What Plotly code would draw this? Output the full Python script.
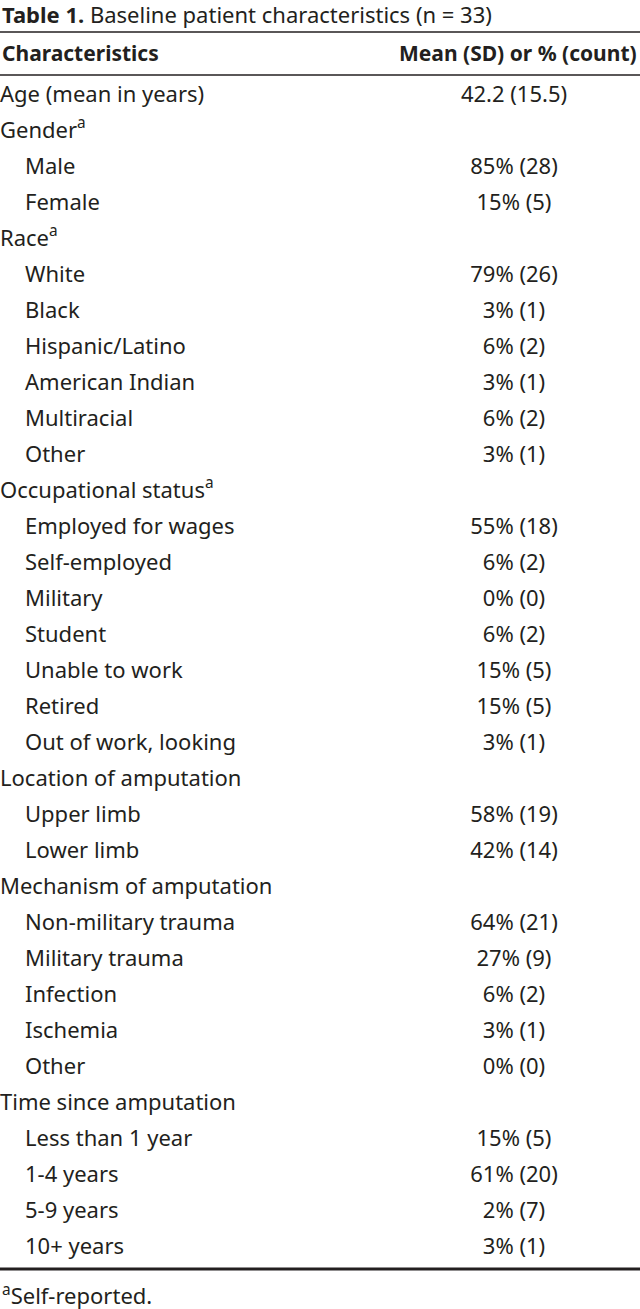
import plotly.graph_objects as go

# table content
title_bold = "Table 1."
title_rest = " Baseline patient characteristics (n = 33)"
header_left = "Characteristics"
header_right = "Mean (SD) or % (count)"

labels = [
    "Age (mean in years)", "Gender<sup>a</sup>", "Male", "Female",
    "Race<sup>a</sup>", "White", "Black", "Hispanic/Latino", "American Indian",
    "Multiracial", "Other",
    "Occupational status<sup>a</sup>", "Employed for wages", "Self-employed",
    "Military", "Student", "Unable to work", "Retired", "Out of work, looking",
    "Location of amputation", "Upper limb", "Lower limb",
    "Mechanism of amputation", "Non-military trauma", "Military trauma",
    "Infection", "Ischemia", "Other",
    "Time since amputation", "Less than 1 year", "1-4 years", "5-9 years",
    "10+ years",
]
indented = [
    False, False, True, True,
    False, True, True, True, True, True, True,
    False, True, True, True, True, True, True, True,
    False, True, True,
    False, True, True, True, True, True,
    False, True, True, True, True,
]
values = [
    "42.2 (15.5)", "", "85% (28)", "15% (5)",
    "", "79% (26)", "3% (1)", "6% (2)", "3% (1)", "6% (2)", "3% (1)",
    "", "55% (18)", "6% (2)", "0% (0)", "6% (2)", "15% (5)", "15% (5)", "3% (1)",
    "", "58% (19)", "42% (14)",
    "", "64% (21)", "27% (9)", "6% (2)", "3% (1)", "0% (0)",
    "", "15% (5)", "61% (20)", "2% (7)", "3% (1)",
]
footnote = "<sup>a</sup>Self-reported."

W, H = 640, 1309
FONT = "Noto Sans"
SIZE = 22
INK = "#231f20"

row_y0 = 96
row_step = 36
ys = [row_y0 + i * row_step for i in range(len(labels))]
xs_left = [25 if ind else 0 for ind in indented]
val_x = 514

# only rows that carry a value
val_rows = [i for i, v in enumerate(values) if v]

fig = go.Figure()

fig.add_trace(go.Scatter(
    x=xs_left, y=ys, text=labels, mode="text", textposition="middle right",
    textfont=dict(family=FONT, size=SIZE, color=INK), hoverinfo="skip",
    cliponaxis=False,
))
fig.add_trace(go.Scatter(
    x=[val_x] * len(val_rows), y=[ys[i] for i in val_rows],
    text=[values[i] for i in val_rows], mode="text",
    textposition="middle center",
    textfont=dict(family=FONT, size=SIZE, color=INK), hoverinfo="skip",
    cliponaxis=False,
))

# title, header, footnote
fig.add_annotation(x=0, y=14, text="<b>" + title_bold + "</b>" + title_rest,
                   xanchor="left", yanchor="middle", showarrow=False,
                   font=dict(family=FONT, size=SIZE, color=INK))
fig.add_annotation(x=0, y=53, text="<b>" + header_left + "</b>",
                   xanchor="left", yanchor="middle", showarrow=False,
                   font=dict(family=FONT, size=21, color=INK))
fig.add_annotation(x=639, y=53, text="<b>" + header_right + "</b>",
                   xanchor="right", yanchor="middle", showarrow=False,
                   font=dict(family=FONT, size=21, color=INK))
fig.add_annotation(x=0, y=1294, text=footnote,
                   xanchor="left", yanchor="middle", showarrow=False,
                   font=dict(family=FONT, size=SIZE, color=INK))

# rules
fig.add_shape(type="line", x0=0, x1=W, y0=32, y1=32, line=dict(color=INK, width=1.5))
fig.add_shape(type="line", x0=0, x1=W, y0=75, y1=75, line=dict(color=INK, width=1.5))
fig.add_shape(type="line", x0=0, x1=W, y0=1269, y1=1269, line=dict(color=INK, width=3))

fig.update_xaxes(range=[0, W], visible=False, fixedrange=True)
fig.update_yaxes(range=[H, 0], visible=False, fixedrange=True)
fig.update_layout(
    width=W, height=H, margin=dict(l=0, r=0, t=0, b=0),
    plot_bgcolor="white", paper_bgcolor="white", showlegend=False,
)

# drop the browser's default body margin so the table sits flush at 0,0
fig.write_html("out.html",
               config={"displayModeBar": False},
               post_script="document.body.style.margin='0';"
                           "document.body.style.overflow='hidden';")
